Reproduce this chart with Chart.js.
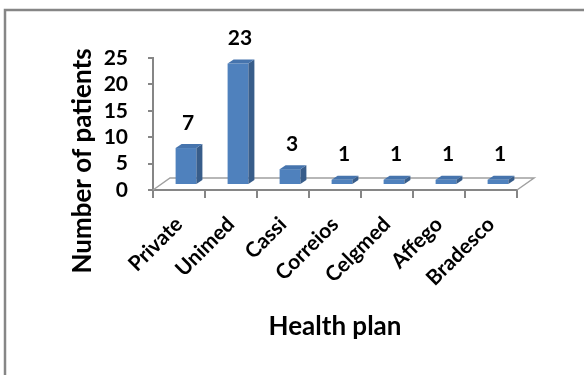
<!DOCTYPE html>
<html>
<head>
<meta charset="utf-8">
<script src="https://cdn.jsdelivr.net/npm/chart.js@4/dist/chart.umd.min.js"></script>
<style>
  html, body { margin: 0; padding: 0; background: #fff; }
  #wrap { width: 584px; height: 375px; position: relative; }
</style>
</head>
<body>
<div id="wrap"><canvas id="planChart"></canvas></div>
<script>
const plans = ["Private", "Unimed", "Cassi", "Correios", "Celgmed", "Affego", "Bradesco"];
const patients = [7, 23, 3, 1, 1, 1, 1];
const yTicks = [0, 5, 10, 15, 20, 25];
const yTitle = "Number of patients";
const xTitle = "Health plan";

const axisGray = "#868686";
const fontName = "Lato, 'Open Sans', sans-serif";

// bar depth + shift into the middle of the floor
const shiftX = 7, shiftY = -5;
const depthX = 6, depthY = -4;
const floorX = 17, floorY = -12;

const frame = {
    id: "frame",
    beforeDraw(chart) {
        const ctx = chart.ctx;
        ctx.save();
        ctx.strokeStyle = axisGray;
        ctx.lineWidth = 2.5;
        ctx.strokeRect(5, 10, 700, 500);
        // y title sits lower than the plot centre in the original, so draw it by hand
        ctx.fillStyle = "#000";
        ctx.font = "bold 26px " + fontName;
        ctx.textAlign = "center";
        ctx.textBaseline = "middle";
        ctx.translate(83, 161);
        ctx.rotate(-Math.PI / 2);
        ctx.fillText(yTitle, 0, 0);
        ctx.restore();
    }
};

const bars3d = {
    id: "bars3d",
    beforeDatasetsDraw(chart) {
        const ctx = chart.ctx;
        const a = chart.chartArea;
        // floor
        ctx.save();
        ctx.strokeStyle = "#a0a0a0";
        ctx.lineWidth = 1.5;
        ctx.beginPath();
        ctx.moveTo(a.left, a.bottom);
        ctx.lineTo(a.left + floorX, a.bottom + floorY);
        ctx.lineTo(a.right + floorX, a.bottom + floorY);
        ctx.lineTo(a.right, a.bottom);
        ctx.stroke();
        ctx.restore();
        ctx.save();
        ctx.translate(shiftX, shiftY);
    },
    afterDatasetsDraw(chart) {
        const ctx = chart.ctx;
        const meta = chart.getDatasetMeta(0);
        meta.data.forEach(bar => {
            const w = bar.width / 2;
            // side
            ctx.fillStyle = "#385d8a";
            ctx.beginPath();
            ctx.moveTo(bar.x + w, bar.y);
            ctx.lineTo(bar.x + w + depthX, bar.y + depthY);
            ctx.lineTo(bar.x + w + depthX, bar.base + depthY);
            ctx.lineTo(bar.x + w, bar.base);
            ctx.closePath();
            ctx.fill();
            // top
            ctx.fillStyle = "#4674ad";
            ctx.beginPath();
            ctx.moveTo(bar.x - w, bar.y);
            ctx.lineTo(bar.x - w + depthX, bar.y + depthY);
            ctx.lineTo(bar.x + w + depthX, bar.y + depthY);
            ctx.lineTo(bar.x + w, bar.y);
            ctx.closePath();
            ctx.fill();
        });
        ctx.restore();

        // value labels
        ctx.save();
        ctx.fillStyle = "#000";
        ctx.font = "bold 21px " + fontName;
        ctx.textAlign = "center";
        ctx.textBaseline = "middle";
        meta.data.forEach((bar, i) => {
            ctx.fillText(String(patients[i]), bar.x + 9, bar.y - 30);
        });
        ctx.restore();
    }
};

new Chart("planChart", {
    type: "bar",
    data: {
        labels: plans,
        datasets: [
            {
                data: patients,
                backgroundColor: "#4f81bd",
                borderWidth: 0,
                barPercentage: 0.4,
                categoryPercentage: 1
            }
        ]
    },
    options: {
        responsive: true,
        maintainAspectRatio: false,
        animation: false,
        layout: {
            padding: { left: 104, right: 67, top: 58, bottom: 29 }
        },
        plugins: {
            legend: { display: false },
            tooltip: { enabled: false }
        },
        scales: {
            x: {
                afterFit(scale) {
                    // rotated labels shouldn't push the plot to the right,
                    // and the axis box is taller than chart.js would allow by default
                    scale.paddingLeft = 0;
                    scale.paddingRight = 0;
                    scale.height = 156;
                },
                grid: {
                    display: true,
                    drawOnChartArea: false,
                    drawTicks: true,
                    tickLength: 8,
                    color: axisGray,
                    lineWidth: 2
                },
                border: { display: true, color: axisGray, width: 2 },
                ticks: {
                    color: "#000",
                    maxRotation: 45,
                    minRotation: 45,
                    padding: 14,
                    font: { family: fontName, size: 21, weight: "bold" }
                },
                title: {
                    display: true,
                    text: xTitle,
                    color: "#000",
                    padding: { top: 23, bottom: 4 },
                    font: { family: fontName, size: 26, weight: "bold" }
                }
            },
            y: {
                min: yTicks[0],
                max: yTicks[yTicks.length - 1],
                afterBuildTicks(scale) {
                    scale.ticks = yTicks.map(v => ({ value: v }));
                },
                afterFit(scale) {
                    scale.width = 49;
                },
                grid: {
                    display: true,
                    drawOnChartArea: false,
                    drawTicks: true,
                    tickLength: 5,
                    color: axisGray,
                    lineWidth: 2
                },
                border: { display: true, color: axisGray, width: 2 },
                ticks: {
                    color: "#000",
                    autoSkip: false,
                    padding: 20,
                    font: { family: fontName, size: 21, weight: "bold" }
                }
            }
        }
    },
    plugins: [frame, bars3d]
});
</script>
</body>
</html>
